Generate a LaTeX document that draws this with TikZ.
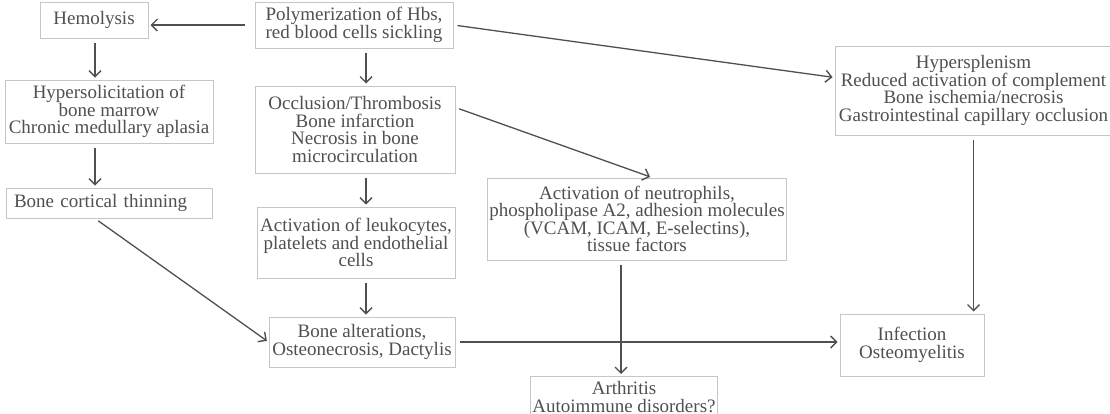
\documentclass[tikz,border=0pt]{standalone}
\usepackage{fontspec}
\setmainfont{Liberation Serif}
\usetikzlibrary{arrows.meta, positioning}

\definecolor{boxgray}{HTML}{C6C6C6}
\definecolor{textgray}{HTML}{505050}
\definecolor{arrowgray}{HTML}{505050}

\begin{document}
\begin{tikzpicture}[x=1pt, y=-1pt,
    % Define styles
    effectbox/.style={rectangle, draw=boxgray, line width=1pt, fill=white, align=center, text=textgray, font=\fontsize{19}{17.5}\selectfont, inner xsep=2pt, inner ysep=3pt},
    arrow/.style={-{Straight Barb[length=6pt, width=12pt, line width=1.4pt]}, line width=1.3pt, draw=arrowgray, shorten <=4pt, shorten >=2pt}
]
    \useasboundingbox (0,0) rectangle (1110,413);
    \clip (0,0) rectangle (1110,413);

    % Guide lines for the vertical chains
    \coordinate (leftline) at (95,0);
    \coordinate (midline) at (366,0);

    % 1. Starting point and hemolysis branch
    \node[effectbox, minimum width=198pt, minimum height=46pt] (polymer) at (354,25) {Polymerization of Hbs,\\red blood cells sickling};
    \node[effectbox, minimum width=108pt, minimum height=36pt] (hemolysis) at (94,20) {Hemolysis};
    \node[effectbox, minimum width=208pt, minimum height=63pt] (marrow) at (109,111.5) {Hypersolicitation of\\bone marrow\\Chronic medullary aplasia};
    \node[effectbox, text width=190pt, align=left, inner xsep=8pt, minimum height=30pt] (cortical) at (109,203) {Bone cortical thinning};

    % 2. Vaso-occlusion branch
    \node[effectbox, minimum width=200pt, minimum height=87pt] (occlusion) at (355,129.5) {Occlusion/Thrombosis\\Bone infarction\\Necrosis in bone\\microcirculation};
    \node[effectbox, minimum width=198pt, minimum height=71pt] (leukocytes) at (356,242.5) {Activation of leukocytes,\\platelets and endothelial\\cells};
    \node[effectbox, minimum width=186pt, minimum height=50pt] (bonealt) at (362,342) {Bone alterations,\\Osteonecrosis, Dactylis};
    \node[effectbox, minimum width=280pt, minimum height=82pt] (neutrophils) at (637,219) {Activation of neutrophils,\\phospholipase A2, adhesion molecules\\(VCAM, ICAM, E-selectins),\\tissue factors};
    \node[effectbox, minimum width=168pt, anchor=north, inner ysep=5pt] (arthritis) at (624,376) {Arthritis\\Autoimmune disorders?};

    % 3. Spleen branch and infection
    \node[effectbox, minimum width=277pt, minimum height=89pt] (spleen) at (973.5,90.5) {Hypersplenism\\Reduced activation of complement\\Bone ischemia/necrosis\\Gastrointestinal capillary occlusion};
    \node[effectbox, minimum width=144pt, minimum height=62pt] (infection) at (912,345) {Infection\\Osteomyelitis};

    % 4. Connections (Arrows)
    \draw[arrow, shorten <=10pt] (polymer.west) -- (polymer.west -| hemolysis.east);
    \draw[arrow] (hemolysis.south -| leftline) -- (marrow.north -| leftline);
    \draw[arrow] (marrow.south -| leftline) -- (cortical.north -| leftline);
    \draw[arrow] (cortical.south -| leftline) -- (bonealt.west);

    \draw[arrow] (polymer.south -| midline) -- (occlusion.north -| midline);
    \draw[arrow] (occlusion.south -| midline) -- (leukocytes.north -| midline);
    \draw[arrow] (leukocytes.south -| midline) -- (bonealt.north -| midline);

    \draw[arrow] (polymer.east) -- ([yshift=13pt]spleen.west);
    \draw[arrow] ([yshift=22pt]occlusion.east) -- ([xshift=15pt]neutrophils.north);
    \draw[arrow] ([xshift=-16pt]neutrophils.south) -- ([xshift=-16pt]neutrophils.south |- arthritis.north);

    \draw[arrow] (bonealt.east) -- (bonealt.east -| infection.west);
    \draw[arrow] (spleen.south) -- (spleen.south |- infection.north);

\end{tikzpicture}
\end{document}
